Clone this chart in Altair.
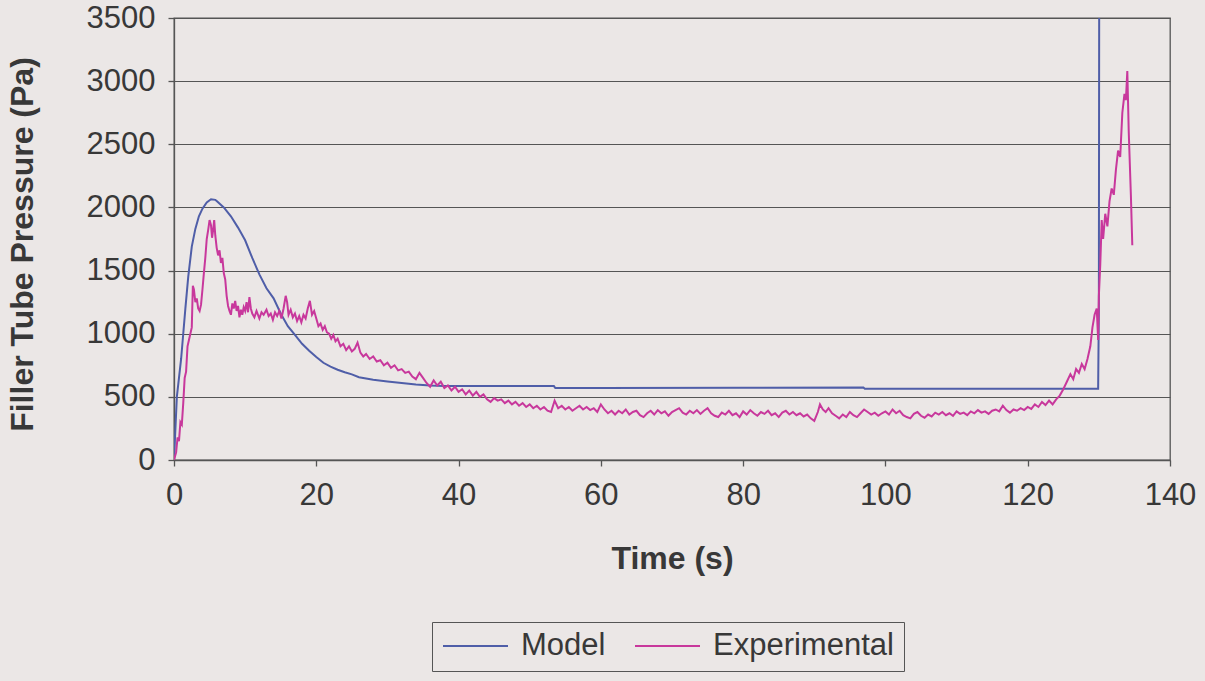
import altair as alt
import pandas as pd

# ---- data ----
model_t = [0, 0.2, 0.4, 0.7, 1.0, 1.3, 1.6, 2.0, 2.5, 3.0, 3.5, 4.0, 4.6, 5.2, 5.8,
           6, 7, 8, 9, 10, 11, 12, 13, 14, 15, 16, 17, 18, 19, 20, 21, 22, 23, 24,
           25, 26, 28, 30, 32, 34, 36, 38, 40, 45, 50, 53.4, 53.6, 60, 80, 96.9,
           97.1, 110, 129.9, 130.0, 130.05]
model_p = [0, 250, 500, 650, 800, 1000, 1200, 1450, 1690, 1830, 1930, 1990, 2040, 2065, 2060,
           2050, 2000, 1930, 1840, 1740, 1600, 1470, 1360, 1280, 1160, 1060, 990, 920, 865,
           815, 770, 740, 715, 695, 678, 655, 635, 622, 610, 598, 590, 585, 585, 585, 585,
           585, 570, 570, 572, 575, 565, 565, 565, 1200, 3800]

exp_t = [0.0, 0.3, 0.5, 0.7, 0.9, 1.1, 1.3, 1.5, 1.7, 1.9, 2.1, 2.3, 2.5, 2.65, 2.8, 3.0,
         3.2, 3.4, 3.6, 3.8, 4.0, 4.2, 4.4, 4.6, 4.8, 5.0, 5.2, 5.35, 5.5, 5.65, 5.8, 6.0,
         6.2, 6.4, 6.6, 6.8, 7.0, 7.2, 7.4, 7.6, 7.8, 8.0, 8.2, 8.4, 8.6, 8.8, 9.0, 9.2,
         9.4, 9.6, 9.8, 10.0, 10.2, 10.4, 10.6, 10.8, 11.0, 11.3, 11.6, 12.0, 12.3, 12.6,
         13.0, 13.3, 13.6, 13.9, 14.2, 14.5, 14.8, 15.1, 15.4, 15.7, 15.9, 16.1, 16.4,
         16.7, 17.0, 17.3, 17.6, 17.9, 18.2, 18.5, 18.8, 19.1, 19.4, 19.7, 20.0, 20.3,
         20.6, 20.9, 21.2, 21.5, 21.8, 22.1, 22.4, 22.7, 23.0, 23.4, 23.8, 24.2, 24.6,
         25.0, 25.4, 25.8, 26.2, 26.6, 27.0, 27.5, 28.0, 28.5, 29.0, 29.5, 30.0, 30.5,
         31.0, 31.5, 32.0, 32.5, 33.0, 33.5, 34.0, 34.5, 35.0, 35.5, 36.0, 36.5, 37.0,
         37.5, 38.0, 38.5, 39.0, 39.5, 40.0, 40.5, 41.0, 41.5, 42.0, 42.5, 43.0, 43.5,
         44.0, 44.5, 45.0, 45.5, 46.0, 46.5, 47.0, 47.5, 48.0, 48.5, 49.0, 49.5, 50.0,
         50.5, 51.0, 51.5, 52.0, 52.5, 53.0, 53.5, 54.0, 54.5, 55.0, 55.5, 56.0, 56.5,
         57.0, 57.5, 58.0, 58.5, 59.0, 59.5, 60.0, 60.5, 61.0, 61.5, 62.0, 62.5, 63.0,
         63.5, 64.0, 64.5, 65.0, 65.5, 66.0, 66.5, 67.0, 67.5, 68.0, 68.5, 69.0, 69.5,
         70.0, 70.5, 71.0, 71.5, 72.0, 72.5, 73.0, 73.5, 74.0, 74.5, 75.0, 75.5, 76.0,
         76.5, 77.0, 77.5, 78.0, 78.5, 79.0, 79.5, 80.0, 80.5, 81.0, 81.5, 82.0, 82.5,
         83.0, 83.5, 84.0, 84.5, 85.0, 85.5, 86.0, 86.5, 87.0, 87.5, 88.0, 88.5, 89.0,
         89.5, 90.0, 90.5, 90.8, 91.2, 91.6, 92.0, 92.5, 93.0, 93.5, 94.0, 94.5, 95.0,
         95.5, 96.0, 96.5, 97.0, 97.5, 98.0, 98.5, 99.0, 99.5, 100.0, 100.5, 101.0,
         101.5, 102.0, 102.5, 103.0, 103.5, 104.0, 104.5, 105.0, 105.5, 106.0, 106.5,
         107.0, 107.5, 108.0, 108.5, 109.0, 109.5, 110.0, 110.5, 111.0, 111.5, 112.0,
         112.5, 113.0, 113.5, 114.0, 114.5, 115.0, 115.5, 116.0, 116.5, 117.0, 117.5,
         118.0, 118.5, 119.0, 119.5, 120.0, 120.5, 121.0, 121.5, 122.0, 122.5, 123.0,
         123.5, 124.0, 124.5, 125.0, 125.5, 126.0, 126.4, 126.8, 127.2, 127.6, 128.0,
         128.4, 128.8, 129.1, 129.4, 129.7, 129.9, 130.0, 130.2, 130.4, 130.6, 130.9,
         131.2, 131.5, 131.8, 132.1, 132.4, 132.7, 133.0, 133.3, 133.6, 133.8, 134.0,
         134.2, 134.5, 134.7]
exp_p = [0, 60, 180, 150, 300, 280, 450, 650, 700, 900, 950, 1000, 1050, 1380, 1350, 1250,
         1280, 1200, 1180, 1230, 1350, 1480, 1600, 1750, 1820, 1900, 1860, 1760, 1820, 1900,
         1780, 1680, 1620, 1660, 1560, 1600, 1480, 1430, 1300, 1220, 1180, 1150, 1240, 1200,
         1260, 1180, 1220, 1130, 1190, 1150, 1210, 1180, 1250, 1170, 1290, 1200, 1160, 1130,
         1180, 1120, 1170, 1150, 1190, 1140, 1160, 1110, 1170, 1140, 1180, 1120, 1200, 1300,
         1250, 1150, 1190, 1130, 1160, 1100, 1140, 1090, 1150, 1120, 1200, 1260, 1150, 1180,
         1120, 1060, 1080, 1030, 1060, 1010, 1000, 960, 990, 940, 960, 900, 920, 870, 900,
         860, 880, 930, 850, 820, 840, 800, 820, 780, 790, 750, 770, 730, 750, 710, 720,
         690, 700, 660, 640, 690, 650, 610, 580, 630, 590, 620, 570, 590, 550, 580, 540,
         560, 520, 550, 510, 540, 500, 520, 480, 460, 490, 470, 480, 450, 470, 440, 460,
         430, 450, 420, 440, 410, 430, 400, 420, 390, 380, 470, 410, 430, 400, 420, 390,
         410, 430, 400, 420, 395, 410, 380, 440, 400, 370, 390, 360, 390, 370, 400, 360,
         380, 390, 355, 340, 370, 390, 360, 395, 370, 385, 350, 380, 395, 410, 375, 360,
         390, 370, 395, 365, 390, 410, 370, 350, 340, 375, 360, 390, 355, 370, 340, 385,
         360, 395, 370, 350, 380, 365, 390, 355, 370, 340, 375, 390, 360, 380, 355, 370,
         345, 360, 330, 310, 380, 440, 400, 380, 410, 370, 350, 330, 360, 340, 380, 355,
         340, 370, 400, 380, 360, 375, 350, 370, 385, 360, 400, 370, 390, 355, 340, 330,
         365, 380, 350, 335, 360, 345, 375, 360, 380, 355, 370, 350, 385, 365, 375, 355,
         385, 370, 395, 375, 385, 365, 390, 400, 385, 430, 395, 375, 400, 390, 410, 395,
         420, 405, 440, 420, 460, 435, 470, 440, 480, 510, 560, 620, 680, 640, 720, 690,
         760, 720, 800, 900, 1050, 1150, 1200, 950, 1300, 1550, 1900, 1750, 1950, 1850,
         2050, 2150, 2100, 2300, 2450, 2400, 2750, 2900, 2850, 3080, 2600, 2100, 1700]

series_names = ["Model", "Experimental"]
series_colors = ["#4f5ea8", "#c8389c"]
x_ticks = [0, 20, 40, 60, 80, 100, 120, 140]
y_ticks = [0, 500, 1000, 1500, 2000, 2500, 3000, 3500]

df = pd.concat([
    pd.DataFrame({"t": model_t, "p": model_p, "series": "Model", "order": range(len(model_t))}),
    pd.DataFrame({"t": exp_t, "p": exp_p, "series": "Experimental", "order": range(len(exp_t))}),
])

FONT = "Liberation Sans"
BG = "#ebe7e6"
INK = "#383838"

chart = alt.Chart(df).mark_line(strokeWidth=2, clip=True).encode(
    x=alt.X("t:Q", title="Time (s)",
            scale=alt.Scale(domain=[0, 140], nice=False, zero=False),
            axis=alt.Axis(values=x_ticks, grid=False, tickSize=6, labelPadding=14,
                          labelFlush=False, labelOverlap=False, format="d",
                          titleY=98, titleBaseline="middle", titleFontSize=32)),
    y=alt.Y("p:Q", title="Filler Tube Pressure (Pa)",
            scale=alt.Scale(domain=[0, 3500], nice=False),
            axis=alt.Axis(values=y_ticks, grid=True, tickSize=6, labelPadding=13,
                          labelFlush=False, labelOverlap=False, format="d",
                          titleX=-152, titleY=226, titleBaseline="middle",
                          titleAlign="center", titleFontSize=32)),
    color=alt.Color("series:N", title=None,
                    scale=alt.Scale(domain=series_names, range=series_colors),
                    sort=series_names,
                    legend=alt.Legend(orient="none", legendX=258, legendY=604,
                                      direction="horizontal", symbolType="stroke",
                                      symbolSize=4225, symbolStrokeWidth=2,
                                      clipHeight=28, labelLimit=400,
                                      labelFontSize=31, labelFont=FONT, labelColor=INK,
                                      strokeColor="#555555", padding=10,
                                      columnPadding=28, labelOffset=12,
                                      fillColor=BG)),
    order="order:Q",
).properties(
    width=996, height=442,
    background=BG,
    padding={"left": 174, "top": 18, "right": 35, "bottom": 221},
    autosize=alt.AutoSizeParams(type="none"),
).configure_view(
    stroke="#555555", strokeWidth=1.3, fill=BG,
).configure_axis(
    labelFont=FONT, titleFont=FONT, labelFontSize=31,
    labelColor=INK, titleColor=INK, titleFontWeight="bold",
    domainColor="#555555", tickColor="#555555", gridColor="#555555",
    gridWidth=1.2, domainWidth=1.3, tickWidth=1.3,
)

chart.save("out.html", embed_options={"renderer": "svg", "actions": False})
